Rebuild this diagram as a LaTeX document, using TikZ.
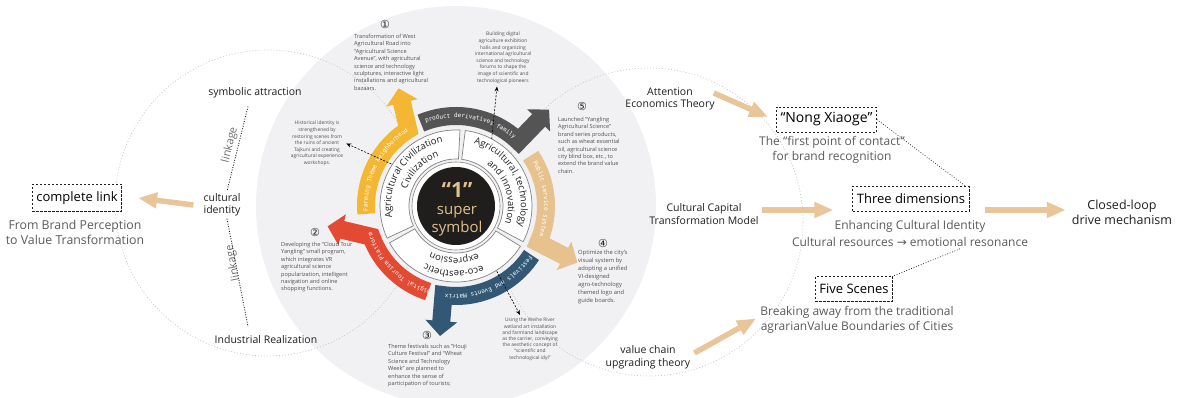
\documentclass[tikz,border=0pt]{standalone}
\usepackage{fontspec}
\setmainfont{Open Sans}
\newfontfamily\bandfont{DejaVu Sans Mono}
\newfontfamily\symfont{DejaVu Sans}
\usetikzlibrary{arrows.meta,calc,decorations.text}

\definecolor{diskgray}{RGB}{241,241,243}
\definecolor{ringline}{RGB}{130,130,130}
\definecolor{coreblack}{RGB}{32,30,28}
\definecolor{coregold}{RGB}{224,192,140}
\definecolor{bandyellow}{RGB}{243,183,52}
\definecolor{bandgray}{RGB}{84,84,84}
\definecolor{bandtan}{RGB}{232,194,142}
\definecolor{bandblue}{RGB}{50,88,118}
\definecolor{bandred}{RGB}{226,74,52}
\definecolor{arrowtan}{RGB}{233,198,154}
\definecolor{labeldark}{RGB}{30,30,30}
\definecolor{notegray}{RGB}{80,80,80}
\definecolor{subgray}{RGB}{90,90,90}
\definecolor{linkgray}{RGB}{110,110,110}
\definecolor{faintdots}{RGB}{200,200,200}

\begin{document}
\begin{tikzpicture}[x=1pt,y=1pt,
  label/.style={font=\fontsize{10.5}{12.5}\selectfont, text=labeldark, align=center, inner sep=1pt},
  sub/.style={font=\fontsize{12}{15}\selectfont, text=subgray, align=center, inner sep=1pt},
  dashbox/.style={draw=labeldark, line width=0.8pt, dash pattern=on 2.4pt off 1.6pt, fill=white, inner xsep=4pt, inner ysep=5pt, text=black},
  note/.style={font=\fontsize{5.6}{7.4}\selectfont, text=notegray, inner sep=0pt, align=left},
  tinynote/.style={font=\fontsize{4.9}{6.6}\selectfont, text=notegray, inner sep=0pt, align=center},
  circnum/.style={font=\symfont\fontsize{11}{11}\selectfont, text=labeldark, inner sep=0pt},
  linkword/.style={font=\fontsize{11}{11}\selectfont, text=linkgray, inner sep=0pt},
  bigarrow/.style={draw=arrowtan, line width=5.5pt, -{Triangle[length=19pt,width=15pt]}},
  band/.style={line width=18pt, line join=miter, -{Triangle[length=15pt,width=31pt]}},
  sector/.style={draw=ringline, line width=0.7pt, fill=white},
  dasharrow/.style={draw=black, line width=0.6pt, dash pattern=on 2pt off 1.5pt, -{Stealth[length=5pt,width=4pt]}},
  linkdots/.style={draw=labeldark, line width=0.9pt, dash pattern=on 0.9pt off 1.6pt},
  tiedots/.style={draw=labeldark, line width=0.7pt, dash pattern=on 0.8pt off 1.8pt},
  bigcircle/.style={draw=faintdots, line width=0.7pt, dash pattern=on 1pt off 2pt},
  bandtext/.style={decorate, decoration={text along path, text align=center, text color=white, text={|\bandfont\fontsize{6}{6}\selectfont|#1}}},
  ringtext/.style={decorate, decoration={text along path, text align=center, text color=labeldark, text={|\fontsize{9.5}{9.5}\selectfont|#1}}},
]
\useasboundingbox (0,0) rectangle (1191,398);
\clip (0,0) rectangle (1191,398);

% ring centre
\coordinate (C) at (456,192);

% background disk and faint orbit circles
\fill[diskgray] (C) circle[radius=200];
\draw[bigcircle] (268,195) circle[radius=153];
\draw[bigcircle] (649,176) circle[radius=154];

% core
\fill[white] (C) circle[radius=44];
\draw[ringline, line width=0.6pt] (C) circle[radius=44];
\fill[coreblack] (C) circle[radius=39];
\node[align=center, text=coregold, inner sep=0pt, font=\fontsize{15}{17.5}\selectfont] (core) at ($(C)+(1,-3)$)
  {{\fontsize{21}{17.5}\selectfont\bfseries “1”}\\super\\symbol};

% three sectors
\draw[sector] ($(C)+(87:76)$) arc[start angle=87,end angle=205,radius=76] -- ($(C)+(205:47)$) arc[start angle=205,end angle=87,radius=47] -- cycle;
\draw[sector] ($(C)+(209:76)$) arc[start angle=209,end angle=328,radius=76] -- ($(C)+(328:47)$) arc[start angle=328,end angle=209,radius=47] -- cycle;
\draw[sector] ($(C)+(-28:76)$) arc[start angle=-28,end angle=83,radius=76] -- ($(C)+(83:47)$) arc[start angle=83,end angle=-28,radius=47] -- cycle;

\path[ringtext={Agricultural Civilization}] ($(C)+(216:65)$) arc[start angle=216,end angle=76,radius=65];
\path[ringtext={Civilization}] ($(C)+(195:52)$) arc[start angle=195,end angle=75,radius=52];
\path[ringtext={Agricultural, technology}] ($(C)+(98:65)$) arc[start angle=98,end angle=-42,radius=65];
\path[ringtext={and innovation}] ($(C)+(80:52)$) arc[start angle=80,end angle=-46,radius=52];
\path[ringtext={eco-aesthetic}] ($(C)+(330:65)$) arc[start angle=330,end angle=206,radius=65];
\path[ringtext={expression}] ($(C)+(322:52)$) arc[start angle=322,end angle=214,radius=52];

% coloured arrow bands
\draw[band, draw=bandyellow] ($(C)+(185:90)$) arc[start angle=185,end angle=122,radius=90] -- ($(C)+(116:131)$);
\draw[band, draw=bandgray] ($(C)+(113:90)$) arc[start angle=113,end angle=46,radius=90] -- ($(C)+(46:134)$);
\draw[band, draw=bandtan] ($(C)+(34:90)$) arc[start angle=34,end angle=-24,radius=90] -- ($(C)+(-25:134)$);
\draw[band, draw=bandblue] ($(C)+(-33:90)$) arc[start angle=-33,end angle=-98,radius=90] -- ($(C)+(-97:131)$);
\draw[band, draw=bandred] ($(C)+(252:90)$) arc[start angle=252,end angle=200,radius=90] -- ($(C)+(189:130)$);

\path[bandtext={Farming Theme Neighborhood}] ($(C)+(187:88.3)$) arc[start angle=187,end angle=119,radius=88.3];
\path[bandtext={product derivatives family}] ($(C)+(114:88.3)$) arc[start angle=114,end angle=45,radius=88.3];
\path[bandtext={Public service system}] ($(C)+(34:88.3)$) arc[start angle=34,end angle=-24,radius=88.3];
\path[bandtext={Festivals and Events Matrix}] ($(C)+(-31:88.3)$) arc[start angle=-31,end angle=-100,radius=88.3];
\path[bandtext={Digital Tourism Platform}] ($(C)+(256:88.3)$) arc[start angle=256,end angle=195,radius=88.3];

% numbered notes
\node[circnum] (c1) at (385,373) {①};
\node[circnum] (c2) at (315,166) {②};
\node[circnum] (c3) at (427,63) {③};
\node[circnum] (c4) at (603,155) {④};
\node[circnum] (c5) at (582,291) {⑤};

\node[note, anchor=north west] (n1) at (354,364) {Transformation of West\\Agricultural Road into\\“Agricultural Science\\Avenue”, with agricultural\\science and technology\\sculptures, interactive light\\installations and agricultural\\bazaars.};
\node[tinynote, anchor=north] (build) at (503,366) {Building digital\\agriculture exhibition\\halls and organizing\\international agricultural\\science and technology\\forums to shape the\\image of scientific and\\technological pioneers};
\node[tinynote, anchor=north] (hist) at (317,277) {Historical identity is\\strengthened by\\restoring scenes from\\the ruins of ancient\\Tajkuni and creating\\agricultural experience\\workshops.};
\node[note, anchor=north west] (n2) at (281,156) {Developing the “Cloud Tour\\Yangling” small program,\\which integrates VR\\agricultural science\\popularization, intelligent\\navigation and online\\shopping functions.};
\node[note, anchor=north west] (n3) at (388,54) {Theme festivals such as “Houji\\Culture Festival” and “Wheat\\Science and Technology\\Week” are planned to\\enhance the sense of\\participation of tourists;};
\node[tinynote, font=\fontsize{4.9}{6.2}\selectfont, anchor=north] (weihe) at (530,80) {Using the Weihe River\\wetland art installation\\and farmland landscape\\as the carrier, conveying\\the aesthetic concept of\\“scientific and\\technological idyl”};
\node[note, font=\fontsize{5.8}{8}\selectfont, anchor=north west] (n4) at (578,148) {Optimize the city's\\visual system by\\adopting a unified\\VI-designed\\agro-technology\\themed logo and\\guide boards.};
\node[note, anchor=north west] (n5) at (558,281) {Launched “Yangling\\Agricultural Science”\\brand series products,\\such as wheat essential\\oil, agricultural science\\city blind box, etc., to\\extend the brand value\\chain.};

% dashed pointers from the ring to the notes
\coordinate (d1) at ($(C)+(147:77)$);
\coordinate (d2) at ($(C)+(62:76)$);
\coordinate (d3) at ($(C)+(-58:77)$);
\draw[dasharrow] (d1) -- ([xshift=3pt]hist.east);
\draw[dasharrow] (d2) -- ($(build.south)+(-6,-3)$);
\draw[dasharrow] (d3) -- ($(weihe.north)+(-10,3)$);

% left side
\node[dashbox, font=\fontsize{13}{13}\selectfont, minimum height=27pt] (clink) at (77,200) {complete link};
\node[sub, font=\fontsize{12.3}{15}\selectfont] (brand) at (75,166) {From Brand Perception\\to Value Transformation};
\node[label] (sym) at (255,305) {symbolic attraction};
\node[label] (cult) at (222,193) {cultural\\identity};
\node[label] (ind) at (266,58) {Industrial Realization};
\node[linkword, rotate=76] (lk1) at (230,253) {linkage};
\node[linkword, rotate=101] (lk2) at (233,135) {linkage};
\draw[linkdots] ($(sym.south)+(-7,-7)$) -- ($(cult.north)+(5,1)$);
\draw[linkdots] ($(cult.south)+(5,-1)$) -- ($(ind.north)+(-18,8)$);
\draw[bigarrow] ([xshift=-9pt]cult.west) -- ([xshift=16pt]clink.east);

% right side
\node[label] (att) at (670,299) {Attention\\Economics Theory};
\node[dashbox, font=\fontsize{14}{14}\selectfont, minimum height=25pt] (nong) at (826.5,278.5) {“Nong Xiaoge”};
\node[sub] (contact) at (832,248.5) {The “first point of contact”\\for brand recognition};
\node[label] (cap) at (704,184) {Cultural Capital\\Transformation Model};
\node[dashbox, font=\fontsize{13}{13}\selectfont, minimum height=25pt] (three) at (911,199) {Three dimensions};
\node[sub, font=\fontsize{12}{17}\selectfont] (enh) at (910,164.5) {Enhancing Cultural Identity\\Cultural resources {\symfont →} emotional resonance};
\node[label, font=\fontsize{12.5}{15}\selectfont] (closed) at (1122,185.5) {Closed-loop\\drive mechanism};
\node[dashbox, font=\fontsize{13}{13}\selectfont, minimum height=25pt] (five) at (854,109) {Five Scenes};
\node[sub] (brk) at (857,78) {Breaking away from the traditional\\agrarianValue Boundaries of Cities};
\node[label] (vct) at (648,40.5) {value chain\\upgrading theory};

\draw[bigarrow] ($(att.east)+(-2,6)$) -- ($(nong.west)+(-8,2.5)$);
\draw[bigarrow] ($(cap.east)+(2,4)$) -- ($(three.west)+(-19,-11)$);
\draw[bigarrow] ($(three.east)+(15,-11)$) -- ($(closed.west)+(-5,2.5)$);
\draw[bigarrow] ($(vct.east)+(3,4.5)$) -- ($(brk.west)+(-3,1.5)$);
\draw[tiedots] (nong.east) -- ($(three.north east)+(-4,0)$);
\draw[tiedots] ($(enh.south)+(50,-1)$) -- (five.north east);
\end{tikzpicture}
\end{document}
